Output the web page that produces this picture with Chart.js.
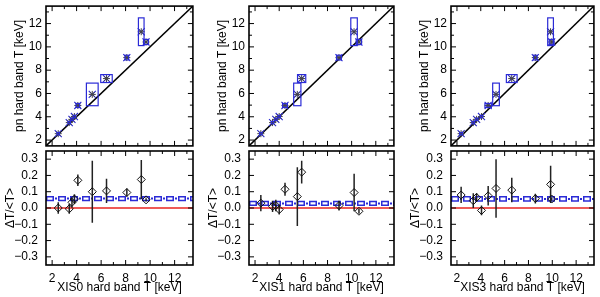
<!DOCTYPE html>
<html>
<head>
<meta charset="utf-8">
<script src="https://cdn.jsdelivr.net/npm/chart.js@4.4.1/dist/chart.umd.min.js"></script>
<style>
body{margin:0;background:#fff}
#wrap{position:relative;width:600px;height:297px;overflow:hidden;background:#fff}
canvas{position:absolute}
</style>
</head>
<body>
<div id="wrap"></div>
<script>
// axis ranges and tick labels
const tMin=1.5, tMax=13.5
const dtMin=-0.35, dtMax=0.35
const tTicks=[2,4,6,8,10,12]
const dtTicks=[-0.3,-0.2,-0.1,0,0.1,0.2,0.3]
const xisNames=["XIS0","XIS1","XIS3"]

// pn hard band temperatures (same for all three panels)
const pnT  =[2.55,3.5,3.78,4.02,4.97,5.92,7.28,9.08,11.3,10.42]
const pnErr=[0.1,0.1,0.1,0.1,0.17,0.97,0.34,0.2,1.19,0.22]

// XIS hard band temperatures
const xis0T  =[2.5,3.4,3.62,3.82,4.1,5.28,6.44,8.1,9.28,9.67]
const xis0Err=[0.1,0.1,0.1,0.1,0.15,0.48,0.47,0.15,0.23,0.2]
const xis1T  =[2.48,3.45,3.72,4.0,4.48,5.5,5.86,8.95,10.2,10.6]
const xis1Err=[0.1,0.1,0.1,0.1,0.2,0.3,0.34,0.2,0.27,0.22]
const xis3T  =[2.35,3.37,3.65,4.06,4.62,5.28,6.6,8.58,9.86,9.95]
const xis3Err=[0.12,0.1,0.1,0.1,0.27,0.28,0.45,0.15,0.24,0.2]

// relative differences dT/<T>
const dt0   =[0.0,-0.005,0.035,0.055,0.17,0.10,0.105,0.095,0.175,0.05]
const dt0Err=[0.035,0.03,0.03,0.03,0.035,0.19,0.075,0.025,0.12,0.01]
const dt1   =[0.03,0.01,0.015,-0.01,0.115,0.07,0.22,0.015,0.095,-0.02]
const dt1Err=[0.05,0.035,0.035,0.03,0.04,0.18,0.07,0.03,0.115,0.015]
const dt3   =[0.08,0.045,0.065,-0.015,0.075,0.12,0.11,0.058,0.145,0.055]
const dt3Err=[0.05,0.045,0.025,0.03,0.06,0.18,0.075,0.03,0.115,0.01]

// weighted mean offset per detector
const bandMean=[0.058,0.028,0.056]
const bandErr =[0.016,0.016,0.017]

const xisT=[xis0T,xis1T,xis3T]
const xisErr=[xis0Err,xis1Err,xis3Err]
const dts=[dt0,dt1,dt3]
const dtErrs=[dt0Err,dt1Err,dt3Err]

// layout
const frameL=[46,249,451]
const frameR=[193,394,594]
const blue="#2b2bd6"
const font={family:"'Liberation Sans', Arial, sans-serif",size:12}

let tickMarks=(from,to,step,majorEvery)=>{
    let out=[]
    for(let k=0;from+k*step<=to+1e-9;k++) out.push({v:from+k*step,len:k%majorEvery===0?5:3})
    return out
}

let fitY=s=>{s.width=46;s.paddingTop=0;s.paddingBottom=0}
let fitX=s=>{s.height=32;s.paddingLeft=0;s.paddingRight=0}

let frameTicks={
    id:"frameTicks",
    afterDraw(chart,args,o){
        let {ctx,chartArea:a,scales:{x,y}}=chart
        ctx.save()
        ctx.strokeStyle="#000"
        ctx.lineWidth=1
        ctx.beginPath()
        for(let m of o.xm){
            let p=x.getPixelForValue(m.v)
            ctx.moveTo(p,a.bottom);ctx.lineTo(p,a.bottom-m.len)
            ctx.moveTo(p,a.top);ctx.lineTo(p,a.top+m.len)
        }
        for(let m of o.ym){
            let p=y.getPixelForValue(m.v)
            ctx.moveTo(a.left,p);ctx.lineTo(a.left+m.len,p)
            ctx.moveTo(a.right,p);ctx.lineTo(a.right-m.len,p)
        }
        ctx.stroke()
        ctx.lineWidth=1.6
        ctx.strokeRect(a.left,a.top,a.right-a.left,a.bottom-a.top)
        ctx.restore()
    }
}

let errBoxes={
    id:"errBoxes",
    afterDatasetsDraw(chart,args,o){
        let {ctx,scales:{x,y}}=chart
        ctx.save()
        ctx.strokeStyle=blue
        ctx.lineWidth=1.2
        o.xs.forEach((xv,j)=>{
            let x0=x.getPixelForValue(xv-o.xe[j]),x1=x.getPixelForValue(xv+o.xe[j])
            let y0=y.getPixelForValue(o.ys[j]+o.ye[j]),y1=y.getPixelForValue(o.ys[j]-o.ye[j])
            ctx.strokeRect(x0,y0,x1-x0,y1-y0)
        })
        ctx.restore()
    }
}

let residual={
    id:"residual",
    beforeDatasetsDraw(chart,args,o){
        let {ctx,chartArea:a,scales:{x,y}}=chart
        ctx.save()
        // zero line
        let y0=y.getPixelForValue(0)
        ctx.strokeStyle="#e8231f"
        ctx.lineWidth=1.6
        ctx.beginPath();ctx.moveTo(a.left,y0);ctx.lineTo(a.right,y0);ctx.stroke()
        // mean offset band
        let yHi=y.getPixelForValue(o.mean+o.err),yLo=y.getPixelForValue(o.mean-o.err)
        let ym=(yHi+yLo)/2,th=yLo-yHi
        ctx.beginPath();ctx.moveTo(a.left,ym);ctx.lineTo(a.right,ym)
        ctx.strokeStyle=blue;ctx.lineWidth=th;ctx.setLineDash([8,4]);ctx.lineDashOffset=0;ctx.stroke()
        ctx.strokeStyle="#fff";ctx.lineWidth=th-3;ctx.setLineDash([5,7]);ctx.lineDashOffset=-1.5;ctx.stroke()
        ctx.strokeStyle=blue;ctx.lineWidth=2;ctx.setLineDash([2,10]);ctx.lineDashOffset=-9;ctx.stroke()
        ctx.setLineDash([])
        // error bars
        ctx.strokeStyle="#222"
        ctx.lineWidth=1.5
        ctx.beginPath()
        o.xs.forEach((xv,j)=>{
            let p=x.getPixelForValue(xv)
            let t=Math.max(a.top,y.getPixelForValue(o.dt[j]+o.de[j]))
            let b=Math.min(a.bottom,y.getPixelForValue(o.dt[j]-o.de[j]))
            ctx.moveTo(p,t);ctx.lineTo(p,b)
        })
        ctx.stroke()
        ctx.restore()
    }
}

let wrap=document.querySelector("#wrap")
let makeCanvas=(left,top,w,h)=>{
    let c=document.createElement("canvas")
    c.width=w;c.height=h
    c.style.left=left+"px";c.style.top=top+"px"
    c.style.width=w+"px";c.style.height=h+"px"
    wrap.appendChild(c)
    return c
}

let fmtDt=v=>(v<-1e-9?"\u2212":"")+Math.abs(v).toFixed(1)

for(let i=0;i<3;i++){
    let left=frameL[i]-46
    let w=frameR[i]+6-left
    let pts=xisT[i].map((xv,j)=>({x:xv,y:pnT[j]}))

    // upper panel: pn vs XIS temperature
    new Chart(makeCanvas(left,0,w,152),{
        type:"scatter",
        data:{datasets:[
            {data:pts,pointStyle:"star",pointRadius:3.5,borderColor:"#444",borderWidth:1,backgroundColor:"transparent"},
            {data:pts,pointStyle:"crossRot",pointRadius:5,borderColor:blue,borderWidth:1.1,backgroundColor:"transparent"},
            {type:"line",data:[{x:tMin,y:tMin},{x:tMax,y:tMax}],borderColor:"#000",borderWidth:1.5,pointRadius:0}
        ]},
        options:{
            responsive:false,animation:false,
            layout:{padding:{top:3,right:6,bottom:1,left:0}},
            plugins:{
                legend:{display:false},tooltip:{enabled:false},
                frameTicks:{xm:tickMarks(2,13,1,2),ym:tickMarks(2,13,1,2)},
                errBoxes:{xs:xisT[i],xe:xisErr[i],ys:pnT,ye:pnErr}
            },
            scales:{
                x:{type:"linear",min:tMin,max:tMax,display:false},
                y:{type:"linear",min:tMin,max:tMax,
                    afterFit:fitY,
                    afterBuildTicks:s=>{s.ticks=tTicks.map(v=>({value:v}))},
                    grid:{display:false,drawTicks:false},border:{display:false},
                    ticks:{font,color:"#000",padding:4,callback:v=>String(v)},
                    title:{display:true,text:"pn hard band T [keV]",font,color:"#000",padding:{top:12,bottom:0}}
                }
            }
        },
        plugins:[errBoxes,frameTicks]
    })

    // lower panel: relative difference
    new Chart(makeCanvas(left,140,w,157),{
        type:"scatter",
        data:{datasets:[
            {data:xisT[i].map((xv,j)=>({x:xv,y:dts[i][j]})),pointStyle:"rectRot",pointRadius:4,borderColor:"#111",borderWidth:1,backgroundColor:"transparent"}
        ]},
        options:{
            responsive:false,animation:false,
            layout:{padding:{top:11,right:6,bottom:0,left:0}},
            plugins:{
                legend:{display:false},tooltip:{enabled:false},
                frameTicks:{xm:tickMarks(2,13,1,2),ym:tickMarks(-0.3,0.3,0.1,1)},
                residual:{xs:xisT[i],dt:dts[i],de:dtErrs[i],mean:bandMean[i],err:bandErr[i]}
            },
            scales:{
                x:{type:"linear",min:tMin,max:tMax,
                    afterFit:fitX,
                    afterBuildTicks:s=>{s.ticks=tTicks.map(v=>({value:v}))},
                    grid:{display:false,drawTicks:false},border:{display:false},
                    ticks:{font,color:"#000",padding:6,maxRotation:0,callback:v=>String(v)},
                    title:{display:true,text:xisNames[i]+" hard band T [keV]",font,color:"#000",padding:{top:0,bottom:2}}
                },
                y:{type:"linear",min:dtMin,max:dtMax,
                    afterFit:fitY,
                    afterBuildTicks:s=>{s.ticks=dtTicks.map(v=>({value:v}))},
                    grid:{display:false,drawTicks:false},border:{display:false},
                    ticks:{font,color:"#000",padding:8,callback:fmtDt},
                    title:{display:true,text:"\u0394T/<T>",font,color:"#000",padding:{top:3,bottom:0}}
                }
            }
        },
        plugins:[residual,frameTicks]
    })
}
</script>
</body>
</html>
